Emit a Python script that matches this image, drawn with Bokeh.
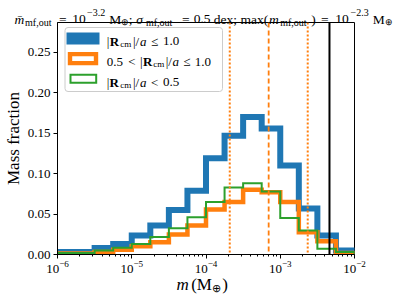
import numpy as np
from bokeh.plotting import figure
from bokeh.models import (FixedTicker, PrintfTickFormatter, LogTickFormatter,
                          Span, BoxAnnotation, Range1d, LinearScale)
from bokeh.core.properties import value
from bokeh.embed import file_html
from bokeh.resources import INLINE

# ---------------- data ----------------
log_edges = [-6.0, -5.75, -5.5, -5.25, -5.0, -4.75, -4.5, -4.25, -4.0,
             -3.75, -3.5, -3.25, -3.0, -2.75, -2.5, -2.25, -2.0]
frac_all = [0.003, 0.003, 0.008, 0.013, 0.0235, 0.036, 0.055, 0.079,
            0.119, 0.147, 0.170, 0.156, 0.110, 0.057, 0.0235, 0.005]
frac_outer = [0.0012, 0.0012, 0.003, 0.006, 0.0103, 0.015, 0.0248, 0.036,
              0.0556, 0.065, 0.080, 0.077, 0.065, 0.0276, 0.0165, 0.002]
frac_inner = [0.0018, 0.0018, 0.005, 0.0085, 0.013, 0.0215, 0.0326, 0.046,
              0.065, 0.083, 0.088, 0.078, 0.045, 0.0297, 0.007, 0.003]
mean_log = -3.156
sigma_lo_log = -3.68
sigma_hi_log = -2.63
max_log = -2.337
xtick_exps = [-6, -5, -4, -3, -2]
ytick_vals = [0.0, 0.05, 0.10, 0.15, 0.20, 0.25]

BLUE, ORANGE, GREEN = "#1f77b4", "#ff7f0e", "#2ca02c"
SERIF = "Liberation Serif"

edges = [10.0 ** e for e in log_edges]


def step_xy(ed, vals):
    xs, ys = [ed[0]], [0.0]
    for i, v in enumerate(vals):
        xs += [ed[i], ed[i + 1]]
        ys += [v, v]
    xs.append(ed[-1])
    ys.append(0.0)
    return xs, ys


# frame placed at page x 52..354, y 22..254
FL, FR, FT, FB = 52.0, 354.0, 22.0, 254.0
p = figure(width=403, height=297, x_axis_type="log",
           x_range=(1e-6, 1e-2), y_range=(0, 0.287),
           output_backend="svg", toolbar_location=None,
           min_border_left=int(FL), min_border_right=int(403 - FR),
           min_border_top=int(FT), min_border_bottom=int(297 - FB))
p.background_fill_color = "white"
p.border_fill_color = "white"
p.grid.visible = False
p.outline_line_color = "black"
p.outline_line_width = 1
# page-pixel ranges for text placement
p.extra_x_ranges = {"px": Range1d(FL, FR)}
p.extra_y_ranges = {"py": Range1d(FB, FT)}
p.extra_x_scales = {"px": LinearScale()}
p.extra_y_scales = {"py": LinearScale()}

for lw, col, vals in [(6, BLUE, frac_all), (4.5, ORANGE, frac_outer), (2, GREEN, frac_inner)]:
    xs, ys = step_xy(edges, vals)
    p.line(xs, ys, line_width=lw, line_color=col, line_join="miter", line_cap="butt")

# axes
xt = [10.0 ** e for e in xtick_exps]
minor = [k * 10.0 ** e for e in xtick_exps[:-1] for k in range(2, 10)]
p.xaxis.ticker = FixedTicker(ticks=xt, minor_ticks=minor)
p.xaxis.formatter = LogTickFormatter()
p.yaxis.ticker = FixedTicker(ticks=ytick_vals)
p.yaxis.formatter = PrintfTickFormatter(format="%.2f")
for ax in (p.xaxis[0], p.yaxis[0]):
    ax.axis_line_color = "black"
    ax.major_tick_line_color = "black"
    ax.minor_tick_line_color = "black"
    ax.major_tick_in = 0
    ax.major_tick_out = 4
    ax.minor_tick_in = 0
    ax.minor_tick_out = 2
    ax.major_label_text_font = SERIF
    ax.major_label_text_font_size = "13px"
    ax.major_label_text_color = "black"
p.yaxis.minor_tick_line_color = None
p.yaxis.major_label_standoff = 3
p.xaxis.major_label_standoff = 2
p.yaxis.axis_label = "Mass fraction"
p.yaxis.axis_label_text_font = SERIF
p.yaxis.axis_label_text_font_size = "17px"
p.yaxis.axis_label_text_font_style = "normal"
p.yaxis.axis_label_text_color = "black"
p.yaxis.axis_label_standoff = 2

# vertical reference lines
p.add_layout(Span(location=10 ** sigma_lo_log, dimension="height", line_color=ORANGE,
                  line_width=2, line_dash="2 2"))
p.add_layout(Span(location=10 ** sigma_hi_log, dimension="height", line_color=ORANGE,
                  line_width=2, line_dash="2 2"))
p.add_layout(Span(location=10 ** mean_log, dimension="height", line_color=ORANGE,
                  line_width=1.8, line_dash="5 3"))
p.add_layout(Span(location=10 ** max_log, dimension="height", line_color="black",
                  line_width=2))


def txt(s, px, py, size, style="normal", align="left"):
    p.text(x=[px], y=[py], text=[s], x_range_name="px", y_range_name="py",
           text_font=value(SERIF), text_font_size=value(f"{size}px"),
           text_font_style=value(style), text_baseline="alphabetic",
           text_align=align, text_color="black", level="overlay")


W = {'0': .5, '1': .5, '2': .5, '3': .5, '5': .5, '.': .25, ' ': .25, '<': .564,
     '≤': .549, '|': .2, '/': .278, 'R': .722, 'c': .444, 'm': .778, 'a': .5}


def rich(parts, px0, py, span, size=13):
    sub = size * 0.7
    ws = []
    for t, k in parts:
        fs = sub if k == "sub" else size
        ws.append(sum(W.get(c, .5) for c in t) * fs)
    kf = span / sum(ws)
    x = px0
    for (t, k), w in zip(parts, ws):
        if t.strip():
            if k == "sub":
                txt(t, x, py + 2.5, round(sub, 1))
            else:
                txt(t, x, py, size, {"b": "bold", "i": "italic"}.get(k, "normal"))
        x += w * kf


# ---- legend ----
def sbox(x0, x1, y0, y1, **kw):
    p.add_layout(BoxAnnotation(left=x0 - FL, right=x1 - FL, top=FB - y0, bottom=FB - y1,
                               left_units="screen", right_units="screen",
                               top_units="screen", bottom_units="screen", **kw))


sbox(59.5, 217, 27, 91, fill_color="white", fill_alpha=0.85, line_color="#cccccc",
     line_alpha=1, line_width=1, border_radius=3, level="annotation")
for (x0, x1, yt, yb, col, lw) in [(64, 91, 35, 41, BLUE, 6), (64.5, 90.5, 53.6, 62.6, ORANGE, 4.4),
                                  (65, 90.7, 74.3, 82.3, GREEN, 2)]:
    sbox(x0, x1, yt, yb, fill_alpha=0, line_color=col, line_alpha=1, line_width=lw,
         line_join="miter", level="annotation")

rich([("|", "n"), ("R", "b"), ("cm", "sub"), ("|/", "n"), ("a", "i"), (" ", "n"),
      ("≤", "n"), (" ", "n"), ("1.0", "n")], 102, 40.8, 76)
rich([("0.5", "n"), (" ", "n"), ("<", "n"), (" ", "n"), ("|", "n"), ("R", "b"), ("cm", "sub"),
      ("|/", "n"), ("a", "i"), (" ", "n"), ("≤", "n"), (" ", "n"), ("1.0", "n")], 102, 61.3, 108)
rich([("|", "n"), ("R", "b"), ("cm", "sub"), ("|/", "n"), ("a", "i"), (" ", "n"),
      ("<", "n"), (" ", "n"), ("0.5", "n")], 102, 81.8, 76)

# ---- title ----
MAIN, SUBF, OPL = 13.5, 10, 9
TB, SB, UB = 18.8, 21.5, 12
title_parts = [
    ("m\u0304", 8.3, "italic", "main"), ("mf,out", 19, "normal", "sub"),
    ("=", 53.5, "normal", "main"), ("10", 67, "normal", "main"), ("\u22123.2", 82, "normal", "sup"),
    ("M", 104.5, "normal", "main"), ("\u2295", 116.5, "normal", "opl"), (";", 124.5, "normal", "main"),
    ("\u03c3", 132, "italic", "main"), ("mf,out", 142, "normal", "sub"),
    ("=", 178.5, "normal", "main"), ("0.5", 190.5, "normal", "main"), ("dex;", 211, "normal", "main"),
    ("max(", 238, "normal", "main"), ("m", 267, "italic", "main"), ("mf,out", 278.5, "normal", "sub"),
    (")", 310, "normal", "main"), ("=", 320, "normal", "main"), ("10", 334.5, "normal", "main"),
    ("\u22122.3", 350, "normal", "sup"), ("M", 372.5, "normal", "main"), ("\u2295", 385, "normal", "opl"),
]
for t, x, st, kind in title_parts:
    if kind == "main":
        txt(t, x, TB, MAIN, st)
    elif kind == "sub":
        txt(t, x, SB, SUBF, st)
    elif kind == "opl":
        txt(t, x, SB, OPL, st)
    else:
        txt(t, x, UB, SUBF, st)

# ---- x axis label ----
txt("m", 173, 283.5, 17, "italic")
txt("(", 188, 283.5, 17)
txt("M", 193.5, 283.5, 17)
txt("\u2295", 209, 287, 11)
txt(")", 219.5, 283.5, 17)

open("out.html", "w").write(file_html(p, INLINE))
